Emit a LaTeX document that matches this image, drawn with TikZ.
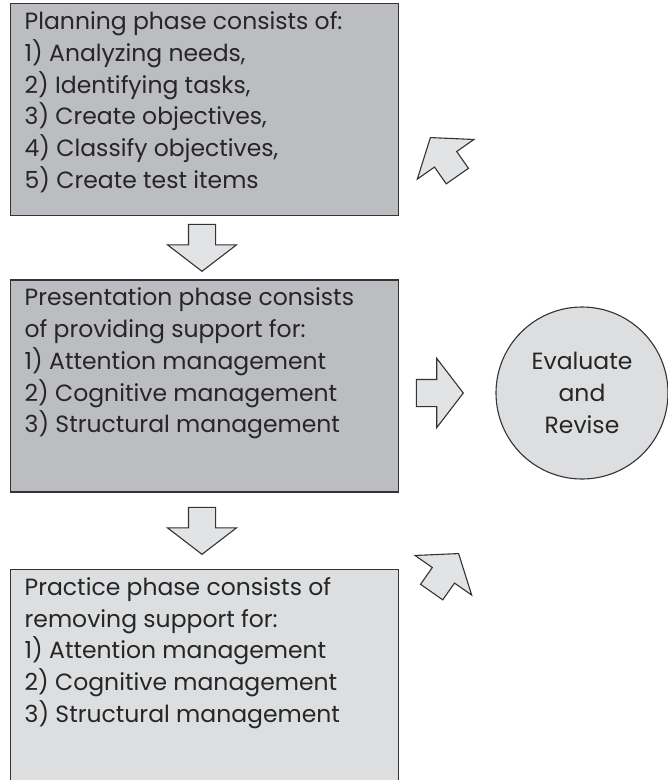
\documentclass[tikz,border=0pt]{standalone}
\usepackage{fontspec}
\setmainfont{Poppins}
\usetikzlibrary{positioning,shapes.arrows}

\definecolor{phasegray}{HTML}{BCBDC0}
\definecolor{lightgray}{HTML}{DDDEE0}
\definecolor{arrowgray}{HTML}{E2E3E5}
\definecolor{edgegray}{HTML}{333333}

\newcommand{\phasetext}[1]{\begin{minipage}[t][196pt][t]{360pt}#1\end{minipage}}

\begin{document}
\begin{tikzpicture}[x=1pt,y=-1pt,
		font=\fontsize{23.5}{31.7}\selectfont,
		phase box/.style={rectangle,draw=edgegray,line width=1.4pt,anchor=north west,
			inner xsep=14pt,inner ysep=8pt,text=black!85},
		flow arrow/.style={single arrow,draw=edgegray,fill=arrowgray,line width=1.1pt,
			inner xsep=0pt,inner ysep=13pt,minimum height=47pt,
			single arrow head extend=21pt,single arrow tip angle=105,anchor=tip}]
		
		\useasboundingbox (0,0) rectangle (668,780);
		
		\node[phase box,fill=phasegray] (plan) at (10,3) {\phasetext{Planning phase consists of:\\
			1) Analyzing needs,\\
			2) Identifying tasks,\\
			3) Create objectives,\\
			4) Classify objectives,\\
			5) Create test items}};
		\node[phase box,fill=phasegray,below=63pt of plan.south west,anchor=north west] (present) {\phasetext{Presentation phase consists\\
			of providing support for:\\
			1) Attention management\\
			2) Cognitive management\\
			3) Structural management}};
		\node[phase box,fill=lightgray,below=76pt of present.south west,anchor=north west] (practice) {\phasetext{Practice phase consists of\\
			removing support for:\\
			1) Attention management\\
			2) Cognitive management\\
			3) Structural management}};
		
		\node[circle,draw=edgegray,line width=1.1pt,fill=lightgray,minimum size=172pt,
			align=center,inner sep=0pt,text=black!85] (eval) at (582,393) {Evaluate\\and\\Revise};
		
		% block arrows between the phases and the evaluation
		\node[flow arrow,rotate=-90] (down1) at (202,272) {};
		\node[flow arrow,rotate=-90] (down2) at (202,555) {};
		\node[flow arrow] (toeval) at (464,393) {};
		\node[flow arrow,rotate=125] (toplan) at (430,137) {};
		\node[flow arrow,rotate=55] (topractice) at (459,553) {};
\end{tikzpicture}
\end{document}
